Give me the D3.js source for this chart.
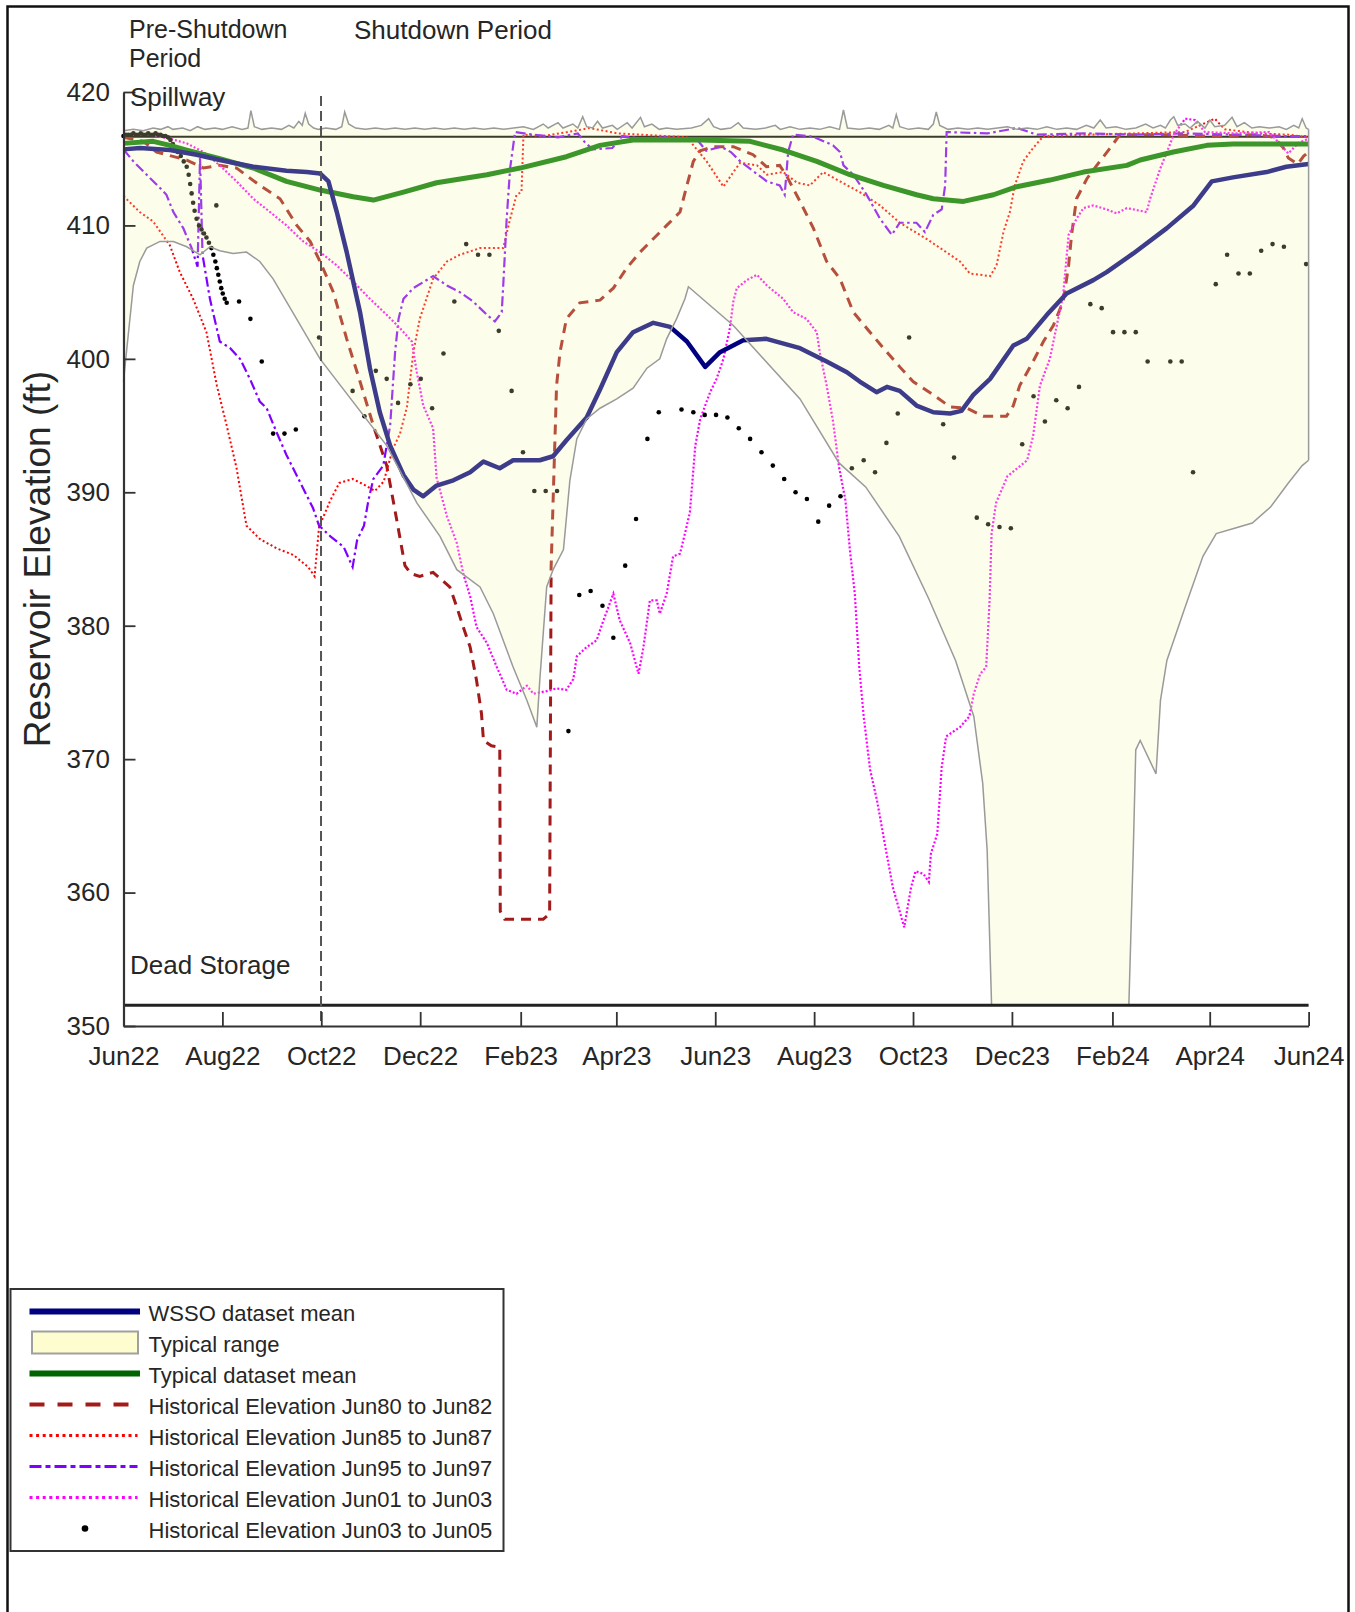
<!DOCTYPE html>
<html>
<head>
<meta charset="utf-8">
<script src="https://cdn.jsdelivr.net/npm/d3@7/dist/d3.min.js"></script>
<style>
  html, body { margin: 0; padding: 0; background: #fff; }
  svg { display: block; font-family: "Liberation Sans", Arial, Helvetica, sans-serif; }
</style>
</head>
<body>
<svg id="chart" width="1355" height="1612"></svg>
<script>
// Every series is a list of [months since 1 Jun 2022, reservoir elevation in ft].

const spillwayElevation = 416.65;
const deadStorageElevation = 351.55;
const shutdownStartMonth = 4;            // Oct 2022
const yTickValues = [350, 360, 370, 380, 390, 400, 410, 420];

const wssoMean = [[0,415.7],[0.33,415.8],[0.94,415.65],[1.48,415.3],[1.95,414.9],[2.63,414.4],[3.3,414.1],[3.71,414.0],[3.98,413.9],[4.15,413.3],[4.32,411.0],[4.52,408.0],[4.79,403.5],[4.99,399.3],[5.19,396.0],[5.40,393.5],[5.67,391.3],[5.87,390.2],[6.07,389.7],[6.34,390.5],[6.68,390.9],[7.02,391.5],[7.29,392.3],[7.62,391.8],[7.89,392.4],[8.43,392.4],[8.70,392.7],[8.97,393.9],[9.38,395.6],[9.65,397.7],[9.99,400.5],[10.32,402.0],[10.73,402.7],[11.07,402.4],[11.41,401.3],[11.78,399.4],[12.08,400.5],[12.55,401.4],[13.02,401.5],[13.7,400.8],[14.24,399.8],[14.65,399.0],[14.91,398.3],[15.25,397.5],[15.46,397.9],[15.72,397.6],[16.06,396.5],[16.40,396.0],[16.74,395.9],[16.97,396.1],[17.21,397.3],[17.55,398.5],[18.02,401.0],[18.29,401.5],[18.7,403.3],[19.1,404.9],[19.64,405.9],[19.91,406.5],[20.45,407.9],[21.13,409.8],[21.67,411.5],[22.04,413.3],[22.47,413.6],[23.15,414.0],[23.55,414.4],[24.0,414.6]];

const typicalMean = [[0,416.15],[0.6,416.3],[0.94,416.0],[1.28,415.65],[1.95,415.0],[2.63,414.3],[3.3,413.3],[3.98,412.65],[4.65,412.15],[5.06,411.9],[5.67,412.5],[6.34,413.2],[7.36,413.8],[8.03,414.3],[8.97,415.15],[9.65,416.0],[10.32,416.4],[11.68,416.4],[12.69,416.3],[13.36,415.65],[14.04,414.8],[14.71,413.8],[15.39,413.0],[16.06,412.3],[16.4,412.0],[17.01,411.8],[17.62,412.3],[18.09,412.9],[18.76,413.4],[19.44,414.0],[20.32,414.5],[20.59,414.9],[21.26,415.5],[21.94,416.0],[22.47,416.1],[24,416.1]];

const typicalUpper = [[0,417.1],[0.2,417.2],[0.4,417.1],[0.6,417.3],[0.75,417.2],[0.9,417.4],[1.0,417.2],[1.2,417.3],[1.35,417.1],[1.5,417.4],[1.65,417.2],[1.85,417.3],[2.0,417.2],[2.2,417.4],[2.4,417.2],[2.52,417.3],[2.58,418.6],[2.65,417.4],[2.8,417.2],[3.0,417.3],[3.2,417.2],[3.35,417.5],[3.45,417.3],[3.55,417.8],[3.62,417.5],[3.68,418.4],[3.75,417.6],[3.85,417.3],[3.95,417.2],[4.1,417.3],[4.3,417.2],[4.42,417.4],[4.48,418.5],[4.56,417.6],[4.7,417.3],[4.9,417.2],[5.1,417.3],[5.3,417.2],[5.5,417.3],[5.7,417.2],[5.9,417.3],[6.1,417.2],[6.3,417.3],[6.5,417.2],[6.7,417.3],[6.9,417.2],[7.1,417.3],[7.3,417.2],[7.5,417.3],[7.7,417.2],[7.9,417.3],[8.1,417.4],[8.3,417.2],[8.5,417.6],[8.6,417.3],[8.8,417.7],[8.9,417.3],[9.1,417.6],[9.2,417.3],[9.3,418.15],[9.38,417.4],[9.5,417.3],[9.6,417.8],[9.7,417.3],[9.9,417.5],[10.0,417.2],[10.2,417.7],[10.3,417.3],[10.47,418.1],[10.55,417.4],[10.7,417.6],[10.85,417.2],[11.0,417.3],[11.2,417.2],[11.5,417.3],[11.7,417.5],[11.85,418.0],[11.95,417.4],[12.1,417.2],[12.3,417.3],[12.45,417.7],[12.55,417.3],[12.8,417.2],[13.0,417.3],[13.2,417.5],[13.3,417.2],[13.5,417.4],[13.7,417.2],[13.9,417.3],[14.1,417.2],[14.3,417.4],[14.5,417.2],[14.58,418.65],[14.66,417.3],[14.9,417.2],[15.1,417.3],[15.3,417.2],[15.5,417.5],[15.58,417.3],[15.65,418.3],[15.72,417.4],[15.9,417.2],[16.1,417.3],[16.3,417.2],[16.4,417.6],[16.46,418.5],[16.53,417.5],[16.7,417.2],[16.9,417.3],[17.1,417.2],[17.3,417.3],[17.5,417.2],[17.7,417.3],[17.9,417.4],[18.1,417.2],[18.3,417.3],[18.5,417.2],[18.7,417.4],[18.9,417.2],[19.1,417.3],[19.3,417.2],[19.5,417.5],[19.65,417.3],[19.78,417.9],[19.9,417.3],[20.1,417.4],[20.3,417.2],[20.5,417.3],[20.7,417.6],[20.85,417.3],[21.0,417.5],[21.1,417.3],[21.2,417.9],[21.27,418.15],[21.35,417.5],[21.5,417.6],[21.6,417.3],[21.75,417.8],[21.9,417.3],[22.0,417.9],[22.1,417.4],[22.3,417.5],[22.45,418.1],[22.55,417.4],[22.7,417.7],[22.85,417.3],[23.0,417.4],[23.2,417.3],[23.4,417.4],[23.55,417.2],[23.7,417.5],[23.8,417.3],[23.87,418.0],[23.95,417.3],[24,417.2]];

const typicalLower = [[0,398.3],[0.06,400.5],[0.2,405.5],[0.33,407.3],[0.47,408.3],[0.74,408.8],[1.01,408.8],[1.28,408.4],[1.55,407.8],[1.75,408.4],[1.95,408.1],[2.22,407.9],[2.49,408.0],[2.76,407.3],[3.03,406.0],[3.98,400.0],[5.33,393.5],[5.94,389.2],[6.41,386.7],[6.75,384.2],[7.22,382.9],[7.49,380.9],[7.89,376.9],[8.17,374.4],[8.37,372.4],[8.43,375.9],[8.57,382.9],[8.70,384.2],[8.91,385.7],[9.04,390.9],[9.18,394.0],[9.38,395.5],[9.65,396.3],[9.99,397.0],[10.32,397.8],[10.6,399.3],[10.86,400.0],[11.0,401.5],[11.2,403.0],[11.37,404.5],[11.44,405.4],[12.35,402.5],[13.7,397.0],[14.49,392.2],[15.03,390.4],[15.71,386.7],[16.31,382.0],[16.85,377.4],[17.22,373.2],[17.40,368.2],[17.49,363.2],[17.58,351.55],[20.36,351.55],[20.45,363.2],[20.5,370.7],[20.59,371.4],[20.91,368.9],[21.0,374.4],[21.13,377.4],[21.5,381.4],[21.86,385.2],[22.13,386.9],[22.5,387.3],[22.86,387.7],[23.23,388.9],[23.59,390.7],[23.87,392.0],[24,392.4]];

const hist8082 = [[0,416.6],[0.4,416.3],[0.67,415.5],[1.28,414.9],[1.62,414.3],[1.95,414.5],[2.29,414.3],[2.76,413.0],[3.17,412.0],[3.51,410.0],[3.78,408.8],[3.98,407.3],[4.25,405.0],[4.52,401.5],[4.79,398.3],[5.06,395.0],[5.33,392.0],[5.53,388.0],[5.70,384.5],[5.82,383.9],[6.0,383.7],[6.27,384.0],[6.61,382.9],[6.75,381.4],[6.88,379.9],[7.02,378.4],[7.15,375.9],[7.25,373.4],[7.29,371.4],[7.45,371.0],[7.62,370.9],[7.63,358.6],[7.72,358.0],[8.5,358.0],[8.63,358.4],[8.66,384.4],[8.77,398.0],[8.84,400.5],[8.97,403.0],[9.24,404.2],[9.65,404.4],[9.92,405.3],[10.19,406.8],[10.46,408.0],[10.73,409.0],[11.0,410.0],[11.27,411.0],[11.41,413.0],[11.54,414.8],[11.68,415.6],[11.94,415.9],[12.35,415.9],[12.75,415.3],[13.02,414.4],[13.29,414.5],[13.43,413.7],[13.7,411.8],[13.97,409.8],[14.24,407.3],[14.51,406.0],[14.78,403.5],[15.05,402.3],[15.39,400.8],[15.72,399.4],[15.99,398.3],[16.40,397.3],[16.74,396.4],[17.08,396.3],[17.41,395.7],[17.88,395.7],[18.02,396.5],[18.15,398.0],[18.42,399.8],[18.63,401.3],[18.83,402.5],[19.03,404.3],[19.14,407.0],[19.2,409.3],[19.3,412.0],[19.51,413.5],[19.71,414.5],[19.98,415.8],[20.18,416.8],[21.0,416.8],[22.0,416.7],[23.0,416.8],[23.3,416.6],[23.49,415.8],[23.59,415.05],[23.78,414.6],[23.9,415.2],[24,415.5]];

const hist8587 = [[0,412.2],[0.33,411.0],[0.6,410.3],[0.94,408.5],[1.14,406.5],[1.41,404.5],[1.68,402.0],[1.89,398.0],[2.09,395.0],[2.29,391.8],[2.49,387.5],[2.76,386.5],[3.1,385.8],[3.44,385.3],[3.74,384.4],[3.87,383.7],[3.96,387.4],[4.19,389.4],[4.37,390.7],[4.64,391.0],[4.91,390.5],[5.09,390.1],[5.27,390.8],[5.45,393.2],[5.6,394.4],[5.74,396.4],[5.87,400.5],[6.0,403.0],[6.27,406.0],[6.55,407.3],[6.81,407.8],[7.22,408.3],[7.69,408.3],[7.83,410.5],[7.96,412.3],[8.06,412.5],[8.1,416.8],[8.5,416.7],[9.0,417.0],[9.44,417.3],[10.0,416.9],[10.5,416.8],[11.0,416.7],[11.41,416.6],[11.81,414.8],[12.15,412.9],[12.35,414.0],[12.49,414.7],[12.83,414.5],[13.03,413.8],[13.36,414.0],[13.64,413.2],[13.9,413.0],[14.17,414.0],[14.51,413.3],[14.91,412.5],[15.32,411.5],[15.72,410.2],[16.26,409.0],[16.94,407.3],[17.14,406.4],[17.55,406.2],[17.68,407.0],[17.82,409.5],[17.95,411.0],[18.05,413.0],[18.22,414.8],[18.42,415.8],[18.63,416.7],[19.5,416.8],[20.5,416.9],[21.5,417.0],[22.1,418.0],[22.3,417.2],[23.0,416.9],[23.6,416.8],[24.0,416.6]];

const hist9597 = [[0,415.7],[0.2,414.8],[0.47,413.8],[0.74,412.8],[0.87,412.3],[1.01,411.0],[1.21,409.8],[1.38,408.3],[1.5,406.9],[1.55,415.1],[1.6,407.8],[1.75,404.5],[1.95,401.3],[2.16,400.8],[2.36,400.0],[2.56,398.5],[2.76,396.8],[2.9,396.3],[3.1,394.5],[3.3,392.8],[3.57,390.8],[3.84,388.8],[3.96,387.5],[4.19,386.7],[4.46,385.9],[4.64,384.4],[4.73,386.4],[4.87,387.5],[4.96,389.4],[5.06,391.0],[5.26,392.0],[5.4,395.0],[5.5,400.5],[5.57,403.0],[5.67,404.5],[5.87,405.3],[6.27,406.2],[6.55,405.5],[6.81,405.0],[7.08,404.3],[7.36,403.3],[7.52,402.8],[7.66,403.5],[7.69,405.5],[7.76,410.5],[7.83,414.3],[7.93,417.0],[8.3,416.8],[8.8,416.6],[9.2,416.9],[9.35,416.2],[9.5,415.7],[9.9,415.8],[10.1,416.7],[10.5,416.5],[11.0,416.6],[11.6,416.5],[11.8,415.6],[12.1,415.9],[12.3,415.5],[12.49,414.8],[13.03,413.3],[13.29,413.0],[13.39,412.3],[13.46,415.5],[13.56,416.8],[13.97,416.65],[14.37,416.0],[14.51,415.5],[14.58,414.5],[14.78,413.8],[15.05,412.3],[15.32,410.5],[15.56,409.3],[15.72,410.2],[16.06,410.2],[16.23,409.5],[16.4,410.8],[16.57,411.2],[16.64,413.0],[16.67,417.0],[17.5,416.9],[18.1,417.3],[18.5,416.8],[19.5,416.9],[20.5,416.8],[21.5,416.9],[22.5,416.8],[23.5,416.7],[24,416.7]];

const hist0103 = [[0,416.8],[0.5,416.8],[0.94,416.5],[1.28,416.15],[1.62,415.5],[1.95,414.5],[2.29,413.3],[2.63,412.0],[2.97,411.0],[3.3,410.0],[3.64,408.8],[3.98,408.0],[4.32,407.0],[4.65,405.8],[4.99,404.5],[5.33,403.3],[5.6,402.3],[5.84,401.3],[5.94,399.0],[6.07,396.5],[6.27,394.8],[6.34,391.1],[6.55,388.2],[6.75,386.2],[6.88,383.9],[7.02,382.2],[7.15,379.9],[7.36,378.7],[7.56,376.9],[7.76,375.2],[7.96,374.9],[8.17,375.5],[8.3,374.9],[8.57,375.1],[8.77,375.3],[8.97,375.2],[9.11,376.0],[9.18,377.7],[9.38,378.4],[9.58,378.9],[9.72,380.4],[9.82,381.4],[9.92,382.4],[10.05,380.4],[10.26,378.7],[10.43,376.4],[10.53,378.4],[10.66,381.9],[10.8,381.9],[10.86,380.9],[11.0,382.4],[11.13,385.2],[11.27,385.4],[11.37,386.9],[11.47,388.5],[11.58,393.5],[11.68,395.5],[11.88,397.5],[12.01,398.5],[12.15,400.0],[12.28,402.3],[12.35,404.3],[12.42,405.3],[12.62,405.9],[12.83,406.3],[13.03,405.5],[13.36,404.5],[13.56,403.5],[13.83,403.0],[14.04,402.0],[14.1,400.5],[14.24,398.0],[14.37,395.3],[14.49,391.9],[14.62,389.4],[14.71,385.7],[14.81,382.4],[14.9,376.9],[14.99,373.2],[15.12,369.2],[15.26,366.9],[15.44,363.2],[15.58,360.4],[15.81,357.4],[15.95,360.4],[16.04,361.6],[16.2,361.4],[16.31,360.8],[16.35,362.9],[16.48,364.4],[16.57,369.4],[16.66,371.7],[16.94,372.4],[17.13,373.2],[17.22,374.9],[17.35,376.4],[17.47,376.9],[17.54,381.9],[17.58,386.9],[17.67,389.2],[17.9,391.2],[18.3,392.4],[18.42,394.2],[18.56,398.0],[18.76,400.0],[18.9,402.5],[19.03,404.8],[19.14,409.3],[19.3,410.5],[19.44,411.3],[19.64,411.5],[19.91,411.2],[20.11,410.9],[20.32,411.3],[20.72,411.0],[20.79,412.0],[21.0,414.3],[21.13,415.5],[21.27,416.8],[21.5,418.0],[21.7,417.9],[21.9,417.0],[22.5,416.9],[23.2,417.0],[23.59,415.4],[23.8,416.2],[24,416.5]];

const hist0305 = [[0,416.7],[0.05,416.8],[0.1,416.8],[0.15,416.8],[0.2,416.9],[0.25,416.8],[0.3,416.8],[0.35,416.9],[0.4,416.8],[0.45,416.8],[0.5,416.9],[0.55,416.8],[0.6,416.8],[0.65,416.9],[0.7,416.8],[0.75,416.8],[0.8,416.7],[0.85,416.7],[0.9,416.6],[0.95,416.4],[1.0,416.1],[1.05,415.8],[1.1,415.5],[1.16,415.2],[1.22,414.8],[1.28,414.4],[1.32,413.8],[1.35,413.1],[1.38,412.4],[1.41,411.7],[1.44,411.1],[1.48,410.5],[1.53,410.0],[1.58,409.7],[1.63,409.4],[1.68,409.1],[1.73,408.7],[1.78,408.3],[1.82,407.8],[1.86,407.3],[1.89,406.8],[1.92,406.3],[1.95,405.8],[1.98,405.3],[2.01,404.9],[2.05,404.5],[2.09,404.2],
  [1.88,411.5],[2.34,404.3],[2.57,403.0],[2.8,399.8],[3.03,394.4],[3.26,394.4],[3.49,394.7],[3.96,401.6],[4.64,397.6],[4.88,395.7],[5.11,399.1],[5.33,398.5],[5.56,396.7],[5.81,398.1],[6.02,398.5],[6.25,396.3],[6.48,400.4],[6.7,404.3],[6.94,408.6],[7.18,407.8],[7.41,407.8],[7.6,402.1],[7.86,397.6],[8.09,393.0],[8.32,390.1],[8.55,390.1],[8.78,390.1],[9.01,372.1],[9.23,382.3],[9.46,382.6],[9.7,381.5],[9.92,379.1],[10.16,384.5],[10.38,388.0],[10.61,394.0],[10.84,396.0],[11.3,396.2],[11.54,396.0],[11.77,395.8],[12.0,395.8],[12.23,395.6],[12.46,394.8],[12.69,394.0],[12.92,393.0],[13.15,392.0],[13.38,391.0],[13.61,390.0],[13.84,389.5],[14.07,387.8],[14.29,389.0],[14.52,389.7],[14.75,391.8],[14.99,392.4],[15.22,391.5],[15.45,393.7],[15.68,395.9],[15.91,401.6],[16.6,395.1],[16.82,392.6],[17.28,388.1],[17.51,387.6],[17.74,387.4],[17.97,387.3],[18.2,393.6],[18.43,397.2],[18.66,395.3],[18.89,396.9],[19.12,396.3],[19.35,397.9],[19.58,404.1],[19.81,403.8],[20.04,402.0],[20.27,402.0],[20.5,402.0],[20.74,399.8],[21.2,399.8],[21.43,399.8],[21.66,391.5],[22.12,405.6],[22.35,407.8],[22.58,406.4],[22.81,406.4],[23.04,408.1],[23.27,408.6],[23.5,408.4],[23.95,407.1]];

const legendLabels = [
  "WSSO dataset mean",
  "Typical range",
  "Typical dataset mean",
  "Historical Elevation Jun80 to Jun82",
  "Historical Elevation Jun85 to Jun87",
  "Historical Elevation Jun95 to Jun97",
  "Historical Elevation Jun01 to Jun03",
  "Historical Elevation Jun03 to Jun05"
];

// ---------- layout & scales ----------
const svg = d3.select("#chart");
const TEXT = "#262626";
const plot = { left: 123.5, right: 1308.6, top: 92, bottom: 1026 };
const t0 = new Date(2022, 5, 1), t1 = new Date(2024, 5, 1);
const DAYS_PER_MONTH = 731 / 24;
const at = m => new Date(t0.getTime() + m * DAYS_PER_MONTH * 864e5);

const x = d3.scaleTime().domain([t0, t1]).range([plot.left, plot.right]);
const y = d3.scaleLinear().domain([350, 420]).range([plot.bottom, plot.top]);
const line = d3.line().x(d => x(at(d[0]))).y(d => y(d[1]));

const colors = {
  wsso: "#000080", typical: "#006400", typicalPlot: "#007800",
  h8082: "#a31a1a", h8587: "#ff0000", h9597: "#8000ff", h0103: "#ff00ff", h0305: "#000000",
  rangeFill: "rgb(247,247,173)", rangeEdge: "#9a9a9a"
};

svg.append("rect").attr("width", 1355).attr("height", 1612).attr("fill", "#fff");
svg.append("rect").attr("x", 7.5).attr("y", 6.5).attr("width", 1341).attr("height", 1700)
  .attr("fill", "none").attr("stroke", "#111").attr("stroke-width", 2.5);

// ---------- series (drawn beneath the translucent typical-range band) ----------
const under = svg.append("g");

under.append("line")
  .attr("x1", plot.left).attr("x2", plot.right)
  .attr("y1", y(spillwayElevation)).attr("y2", y(spillwayElevation))
  .attr("stroke", "#000").attr("stroke-width", 2);

under.append("path").datum(hist8082).attr("d", line).attr("fill", "none")
  .attr("stroke", colors.h8082).attr("stroke-width", 3).attr("stroke-dasharray", "10,7");
under.append("path").datum(hist8587).attr("d", line).attr("fill", "none")
  .attr("stroke", colors.h8587).attr("stroke-width", 2).attr("stroke-dasharray", "2,2.5");
under.append("path").datum(hist9597).attr("d", line).attr("fill", "none")
  .attr("stroke", colors.h9597).attr("stroke-width", 2.2).attr("stroke-dasharray", "10,3.5,2.5,3.5");
under.append("path").datum(hist0103).attr("d", line).attr("fill", "none")
  .attr("stroke", colors.h0103).attr("stroke-width", 2.2).attr("stroke-dasharray", "2,2");

under.append("g").selectAll("circle").data(hist0305).join("circle")
  .attr("cx", d => x(at(d[0]))).attr("cy", d => y(d[1])).attr("r", 2.3)
  .attr("fill", colors.h0305);

under.append("path").datum(typicalMean).attr("d", line).attr("fill", "none")
  .attr("stroke", colors.typicalPlot).attr("stroke-width", 5).attr("stroke-linejoin", "round");
under.append("path").datum(wssoMean).attr("d", line).attr("fill", "none")
  .attr("stroke", colors.wsso).attr("stroke-width", 4.5).attr("stroke-linejoin", "round");

// ---------- typical range band ----------
const bandPts = typicalUpper.concat(typicalLower.slice().reverse());
svg.append("path")
  .attr("d", line(bandPts) + "Z")
  .attr("fill", colors.rangeFill).attr("fill-opacity", 0.243).attr("stroke", "none");
svg.append("path").datum(typicalUpper).attr("d", line).attr("fill", "none")
  .attr("stroke", colors.rangeEdge).attr("stroke-width", 1.5);
svg.append("path").datum(typicalLower).attr("d", line).attr("fill", "none")
  .attr("stroke", colors.rangeEdge).attr("stroke-width", 1.5);
svg.append("line")
  .attr("x1", x(at(24))).attr("x2", x(at(24)))
  .attr("y1", y(typicalUpper[typicalUpper.length - 1][1]))
  .attr("y2", y(typicalLower[typicalLower.length - 1][1]))
  .attr("stroke", colors.rangeEdge).attr("stroke-width", 1.5);

// dead storage level
svg.append("line")
  .attr("x1", plot.left).attr("x2", plot.right)
  .attr("y1", y(deadStorageElevation)).attr("y2", y(deadStorageElevation))
  .attr("stroke", "#222").attr("stroke-width", 3);

// start of the shutdown period
svg.append("line")
  .attr("x1", x(at(shutdownStartMonth))).attr("x2", x(at(shutdownStartMonth)))
  .attr("y1", plot.top + 4).attr("y2", plot.bottom)
  .attr("stroke", "#555").attr("stroke-width", 2).attr("stroke-dasharray", "10,5");

// ---------- axes ----------
const xAxis = d3.axisBottom(x)
  .tickValues(d3.timeMonth.range(t0, new Date(2024, 5, 2), 2))
  .tickFormat(d3.timeFormat("%b%y"))
  .tickSizeInner(-14).tickSizeOuter(0).tickPadding(21);
const gx = svg.append("g").attr("transform", `translate(0,${plot.bottom})`).call(xAxis);

const yAxis = d3.axisLeft(y).tickValues(yTickValues)
  .tickSizeInner(-12).tickSizeOuter(0).tickPadding(13.5);
const gy = svg.append("g").attr("transform", `translate(${plot.left},0)`).call(yAxis);

[gx, gy].forEach(g => {
  g.attr("font-family", null).attr("font-size", null);
  g.select(".domain").attr("stroke", "#333").attr("stroke-width", 2.2);
  g.selectAll(".tick line").attr("stroke", "#333").attr("stroke-width", 1.8);
  g.selectAll(".tick text").attr("fill", TEXT).attr("font-size", 26);
});

svg.append("text")
  .attr("transform", `translate(50,${(plot.top + plot.bottom) / 2}) rotate(-90)`)
  .attr("text-anchor", "middle").attr("font-size", 37).attr("fill", TEXT)
  .text("Reservoir Elevation (ft)");

// ---------- annotations ----------
const note = (tx, ty, s, size) => svg.append("text").attr("x", tx).attr("y", ty)
  .attr("font-size", size || 26).attr("fill", TEXT).text(s);
note(129, 38, "Pre-Shutdown", 25);
note(129, 66.5, "Period", 25);
note(354, 39, "Shutdown Period");
note(130, y(spillwayElevation) - 31, "Spillway");
note(130, y(deadStorageElevation) - 31, "Dead Storage");

// ---------- legend ----------
const lg = svg.append("g");
lg.append("rect").attr("x", 10.5).attr("y", 1289).attr("width", 493).attr("height", 262)
  .attr("fill", "#fff").attr("stroke", "#333").attr("stroke-width", 2);

const rowY = i => 1311.5 + i * 31;
const sampleX0 = 29.5, sampleX1 = 140;
const sampleStyles = [
  { type: "line", color: colors.wsso, width: 6 },
  { type: "patch" },
  { type: "line", color: colors.typical, width: 6 },
  { type: "line", color: colors.h8082, width: 4, dash: "15,13" },
  { type: "line", color: colors.h8587, width: 3, dash: "3,3.6", x1: 137.5 },
  { type: "line", color: colors.h9597, width: 3, dash: "12,4,5,4", x1: 137.5 },
  { type: "line", color: colors.h0103, width: 3, dash: "3,3.6", x1: 137.5 },
  { type: "dot", color: colors.h0305 }
];

legendLabels.forEach((label, i) => {
  const cy = rowY(i), s = sampleStyles[i];
  if (s.type === "line") {
    lg.append("line").attr("x1", sampleX0).attr("x2", s.x1 || sampleX1)
      .attr("y1", cy).attr("y2", cy)
      .attr("stroke", s.color).attr("stroke-width", s.width)
      .attr("stroke-dasharray", s.dash || null);
  } else if (s.type === "patch") {
    lg.append("rect").attr("x", 32).attr("y", cy - 11).attr("width", 106).attr("height", 22)
      .attr("fill", "#fdfdcf").attr("stroke", "#a0a0a0").attr("stroke-width", 2);
  } else {
    lg.append("circle").attr("cx", 85).attr("cy", cy).attr("r", 3.3).attr("fill", s.color);
  }
  lg.append("text").attr("x", 148.6).attr("y", cy + 9.8)
    .attr("font-size", 22).attr("fill", TEXT).text(label);
});
</script>
</body>
</html>
